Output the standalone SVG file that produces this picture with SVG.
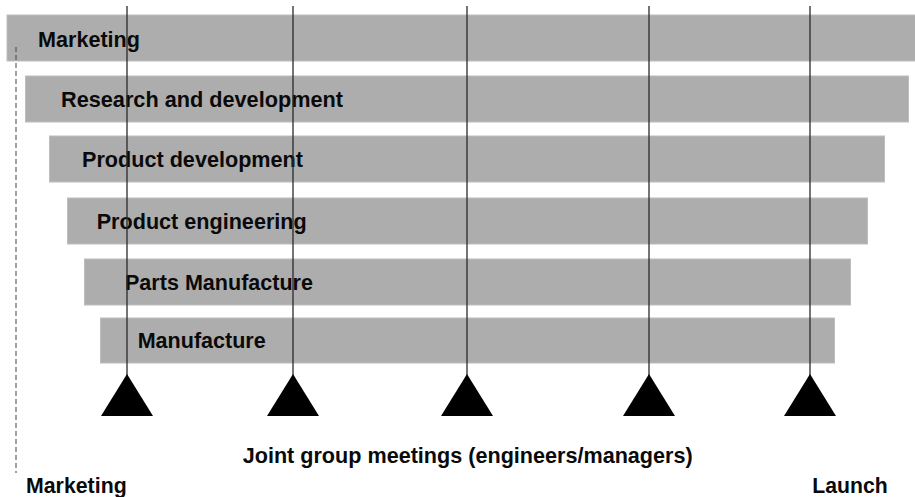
<svg xmlns="http://www.w3.org/2000/svg" width="915" height="497" viewBox="0 0 915 497">
<style>
.bar{fill:#adadad;stroke:#bdbdbd;stroke-width:1}
.lbl{font-family:"Liberation Sans",Arial,sans-serif;font-weight:bold;font-size:22px;fill:#0a0a0a}
.vl{stroke:#2a2a2a;stroke-width:1.3;fill:none}
.tri{fill:#000}
</style>
<rect width="915" height="497" fill="#fff"/>
<g id="marketing"><rect class="bar" x="7" y="15" width="910" height="46"/><text class="lbl" x="38" y="47" textLength="102" lengthAdjust="spacingAndGlyphs">Marketing</text></g>
<g id="research"><rect class="bar" x="25.5" y="76" width="883" height="46"/><text class="lbl" x="61" y="106.5" textLength="282" lengthAdjust="spacingAndGlyphs">Research and development</text></g>
<g id="productdev"><rect class="bar" x="49.5" y="136" width="835" height="46"/><text class="lbl" x="82" y="166.5" textLength="221" lengthAdjust="spacingAndGlyphs">Product development</text></g>
<g id="producteng"><rect class="bar" x="67.5" y="198" width="800" height="46"/><text class="lbl" x="96.7" y="229.3" textLength="210" lengthAdjust="spacingAndGlyphs">Product engineering</text></g>
<g id="parts"><rect class="bar" x="84.5" y="259" width="766" height="46"/><text class="lbl" x="125" y="290" textLength="188" lengthAdjust="spacingAndGlyphs">Parts Manufacture</text></g>
<g id="manufacture"><rect class="bar" x="100.5" y="318" width="734" height="45"/><text class="lbl" x="137.7" y="348.3" textLength="128" lengthAdjust="spacingAndGlyphs">Manufacture</text></g>
<g id="connectors">
<line class="vl" x1="127" y1="6" x2="127" y2="376"/>
<line class="vl" x1="293" y1="6" x2="293" y2="376"/>
<line class="vl" x1="467" y1="6" x2="467" y2="376"/>
<line class="vl" x1="649" y1="6" x2="649" y2="376"/>
<line class="vl" x1="810" y1="6" x2="810" y2="376"/>
<line x1="16" y1="47" x2="16" y2="473" stroke="#444" stroke-width="1" stroke-dasharray="5 3"/>
</g>
<g id="meetings">
<polygon class="tri" points="127,374 153,416 101,416"/>
<polygon class="tri" points="293,374 319,416 267,416"/>
<polygon class="tri" points="467,374 493,416 441,416"/>
<polygon class="tri" points="649,374 675,416 623,416"/>
<polygon class="tri" points="810,374 836,416 784,416"/>
</g>
<g id="labels">
<text class="lbl" x="242.7" y="462.7" textLength="450" lengthAdjust="spacingAndGlyphs">Joint group meetings (engineers/managers)</text>
<text class="lbl" x="26" y="493.3" textLength="100.7" lengthAdjust="spacingAndGlyphs">Marketing</text>
<text class="lbl" x="812.3" y="493.3" textLength="75.4" lengthAdjust="spacingAndGlyphs">Launch</text>
</g>
</svg>
